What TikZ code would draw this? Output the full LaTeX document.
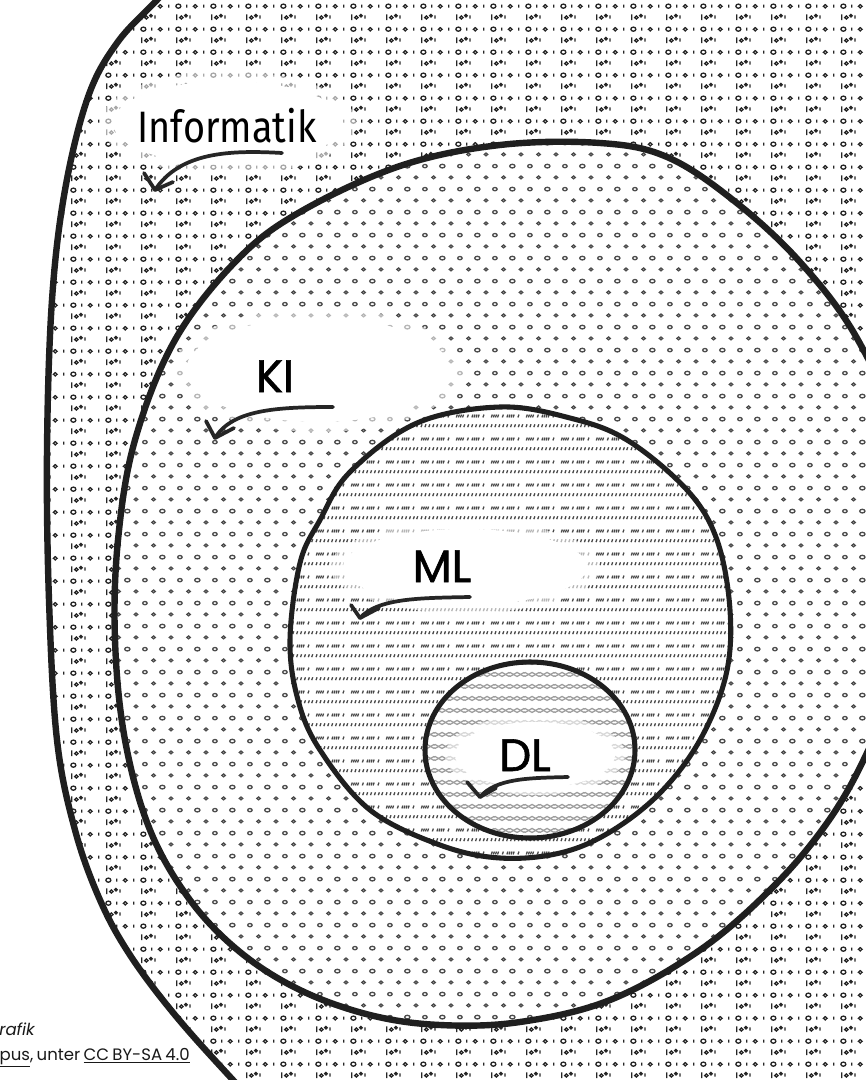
\documentclass[tikz,border=0pt]{standalone}
\usepackage{fontspec}
\usepackage{graphicx}
\setmainfont{Poppins}
\newfontfamily\hand{Fira Sans}
\newfontfamily\labfont{Poppins}[FakeBold=1.3]
\usetikzlibrary{patterns.meta}

\tikzdeclarepattern{
  name=binpat, type=colored,
  bounding box={(0pt,0pt) and (26.25pt,17.5pt)},
  tile size={(26.25pt,17.5pt)},
  code={
    \tikzset{line width=0.6pt}
    \draw[black!85] (2.6pt,13pt) ellipse [x radius=1.9pt, y radius=1.6pt];
    \draw[black!85] (9.06pt,11.8pt) -- (9.06pt,14.2pt);
    \draw[black!85] (15.6pt,12.9pt) ellipse [x radius=1.4pt, y radius=1.25pt];
    \draw[black!85] (22.2pt,11.8pt) -- (22.2pt,14.2pt);
    \draw[black!85] (1.3pt,2.3pt) -- (1.3pt,6.7pt);
    \draw[black!85] (4.9pt,4.2pt) ellipse [x radius=1.3pt, y radius=1.2pt];
    \draw[black!85] (8.4pt,5.6pt) ellipse [x radius=0.95pt, y radius=0.95pt];
    \draw[black!85] (11.6pt,3.3pt) -- (11.6pt,5.9pt);
  }
}
\tikzdeclarepattern{
  name=dotpat, type=colored,
  bounding box={(0pt,0pt) and (26.5pt,17.5pt)},
  tile size={(26.5pt,17.5pt)},
  code={
    \tikzset{line width=0.55pt}
    \draw[black!70] (3pt,13pt) ellipse [x radius=1.7pt, y radius=1.25pt];
    \draw[black!70] (16.3pt,13pt) ellipse [x radius=2.0pt, y radius=1.4pt];
    \draw[black!70] (9.6pt,4.3pt) ellipse [x radius=1.3pt, y radius=1.1pt];
    \draw[black!70] (22.9pt,4.3pt) ellipse [x radius=1.3pt, y radius=1.1pt];
  }
}
\tikzdeclarepattern{
  name=hatchpat, type=colored,
  bounding box={(0pt,0pt) and (26.25pt,17.5pt)},
  tile size={(26.25pt,17.5pt)},
  code={
    \tikzset{line width=0.5pt}
    \foreach \x in {1,2.6,4.2,5.8,9.5,13,14.6,16.2,17.8,21.5}
      \draw[black!72] (\x pt,12pt) -- ++(0.8pt,2.2pt);
    \foreach \x in {0.8,3.8,6.8,9.8,12.8,15.8,18.8,21.8,24.4}
      \draw[black!72] (\x pt,4.5pt) -- ++(0.8pt,2.2pt);
  }
}
\tikzdeclarepattern{
  name=diapat, type=colored,
  bounding box={(0pt,0pt) and (11.25pt,9.2pt)},
  tile size={(11.25pt,9.2pt)},
  code={
    \tikzset{line width=0.45pt}
    \draw[black!38] (0pt,2pt) -- (5.625pt,5.2pt) -- (11.25pt,2pt);
    \draw[black!38] (0pt,5.2pt) -- (5.625pt,2pt) -- (11.25pt,5.2pt);
  }
}

\tikzset{
  outerpath/.style={insert path={plot[smooth cycle, tension=0.6] coordinates {
    (157,0) (117,43) (88,97) (65,190) (52,300) (47,450) (49,600) (57,740)
    (75,830) (100,900) (130,955) (175,1015) (233,1080) (290,1140) (380,1200)
    (700,1300) (1100,1000) (1150,300) (900,-250) (400,-180) (205,-50)}}},
  kipath/.style={insert path={plot[smooth cycle, tension=0.6] coordinates {
    (237,260) (300,212) (400,166) (500,145)
    (600,143) (667,157) (733,200) (800,262) (858,340) (905,450) (915,560)
    (895,680) (865,757) (827,823) (773,887) (700,950) (610,1000) (520,1022)
    (440,1025) (370,1015) (300,990) (240,952) (190,900) (150,830) (125,740)
    (115,640) (118,540) (135,440) (175,340)}}},
  mlpath/.style={insert path={plot[smooth cycle, tension=0.6] coordinates {
    (290,640) (300,563) (320,520) (350,472) (417,423) (500,407) (570,418)
    (627,440) (687,490) (717,540) (730,610) (726,675) (700,740) (660,793)
    (610,832) (560,853) (500,858) (440,845) (370,810) (320,750) (298,700)}}},
  dlpath/.style={insert path={(530,750) ellipse [x radius=105, y radius=88]}},
  thick outline/.style={line width=4.8pt, black!88, line join=round},
  thin outline/.style={line width=3.8pt, black!88, line join=round},
  brush/.style={line width=2.8pt, black!85, line cap=round, line join=round},
  lbl/.style={inner sep=0pt, font=\labfont\fontsize{34}{40}\selectfont, text=black},
  src/.style={inner sep=0pt, font=\fontsize{12.4}{15}\selectfont, text=black!90},
}

\begin{document}
\begin{tikzpicture}[x=0.75pt, y=-0.75pt]
\useasboundingbox (0,0) rectangle (865,1080);
\fill[white] (0,0) rectangle (865,1080);

% regions
\fill[pattern=binpat, outerpath];
\fill[white, kipath];
\fill[pattern=dotpat, kipath];
\fill[white, mlpath];
\fill[pattern=hatchpat, mlpath];
\fill[white, dlpath];
\fill[pattern=diapat, dlpath];

% erased areas behind labels
\fill[white, opacity=0.6] (228,123) ellipse [x radius=128, y radius=52];
\fill[white] (228,123) ellipse [x radius=115, y radius=42];
\fill[white, opacity=0.6] (318,370) ellipse [x radius=145, y radius=62];
\fill[white] (318,370) ellipse [x radius=132, y radius=52];
\fill[white, opacity=0.6] (465,567) ellipse [x radius=135, y radius=46];
\fill[white] (465,567) ellipse [x radius=122, y radius=38];
\fill[white, opacity=0.6] (535,755) ellipse [x radius=90, y radius=40];
\fill[white] (535,755) ellipse [x radius=80, y radius=33];

% outlines
\draw[thick outline, outerpath];
\draw[thick outline, kipath];
\draw[thin outline, mlpath];
\draw[thin outline, dlpath];

% labels
\node[anchor=base, inner sep=0pt] (inf) at (227,143)
  {\hand\fontsize{33}{36}\selectfont\scalebox{0.86}[1]{Informatik}};
\node[lbl, anchor=base] (ki) at (275,392) {KI};
\node[lbl, anchor=base] (ml) at (442,582) {ML};
\node[lbl, anchor=base] (dl) at (525,771) {DL};

% arrows
\coordinate (infA) at (282,153); \coordinate (infT) at (155,190);
\coordinate (kiA) at (333,407);  \coordinate (kiT) at (215,438);
\coordinate (mlA) at (470,597);  \coordinate (mlT) at (360,618);
\coordinate (dlA) at (568,777);  \coordinate (dlT) at (480,797);
\draw[brush] (infA) .. controls (230,150) and (180,152) .. (infT);
\draw[brush] (144,173) -- (infT) -- (173,182);
\draw[brush] (kiA) .. controls (275,407) and (232,410) .. (kiT);
\draw[brush] (206,421) -- (kiT) -- (234,428);
\draw[brush] (mlA) .. controls (420,598) and (378,598) .. (mlT);
\draw[brush] (351,605) -- (mlT) -- (379,608);
\draw[brush] (dlA) .. controls (530,778) and (496,778) .. (dlT);
\draw[brush] (467,782) -- (dlT) -- (496,788);

% source text
\node[src, anchor=base east] (src1) at (35,1035) {\itshape Grafik};
\node[src, anchor=base east] (src2) at (190,1060)
  {\spaceskip=0.2em\underline{KI-Campus}, unter \underline{CC BY-SA 4.0}};
\end{tikzpicture}
\end{document}
